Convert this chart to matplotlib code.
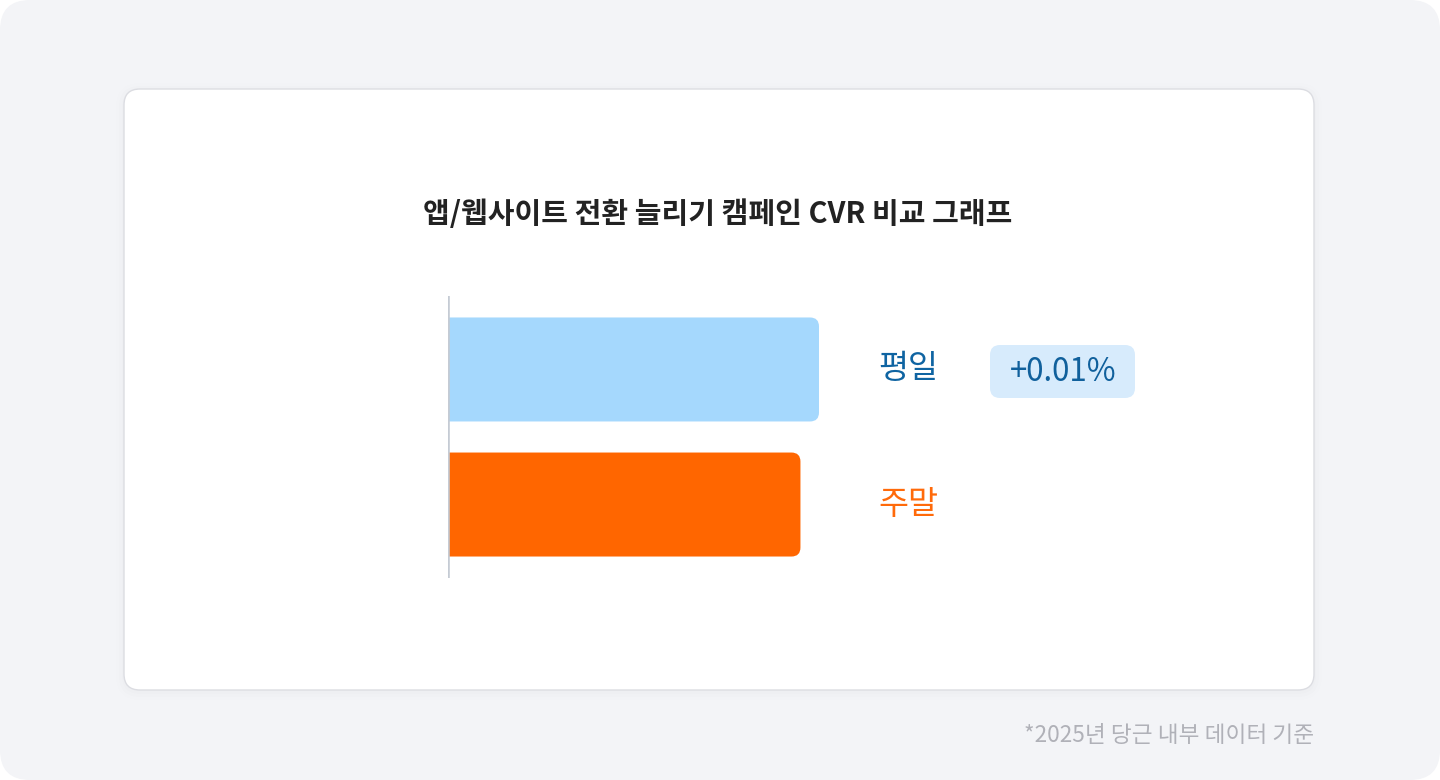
import matplotlib
matplotlib.use("Agg")
from matplotlib import pyplot as plt
from matplotlib.patches import FancyBboxPatch
from matplotlib.transforms import blended_transform_factory

plt.rcParams['font.family'] = ['Noto Sans CJK KR', 'DejaVu Sans']

# data
categories = ['평일', '주말']
cvr = [0.20, 0.19]
bar_colors = ['#a5d8fd', '#ff6600']
label_colors = ['#0f64a2', '#ff6a0a']
diff_label = '+0.01%'
title = '앱/웹사이트 전환 늘리기 캠페인 CVR 비교 그래프'
footnote = '*2025년 당근 내부 데이터 기준'

W, H = 1440, 780
fig = plt.figure(figsize=(W / 100, H / 100), dpi=100, facecolor='white')

# background + card, in pixel coords
bg = fig.add_axes([0, 0, 1, 1])
bg.set_xlim(0, W)
bg.set_ylim(H, 0)
bg.axis('off')
bg.add_patch(FancyBboxPatch((0, 0), W, H, boxstyle='round,pad=0,rounding_size=30',
                            fc='#f3f4f7', ec='none'))
for i, a in enumerate([0.004, 0.006, 0.008]):
    g = 8 - i * 3
    bg.add_patch(FancyBboxPatch((124 - g, 89 - g + 2), 1190 + 2 * g, 601 + 2 * g,
                                boxstyle='round,pad=0,rounding_size=%d' % (16 + g),
                                fc='black', alpha=a, ec='none'))
bg.add_patch(FancyBboxPatch((124, 89), 1190, 601, boxstyle='round,pad=0,rounding_size=16',
                            fc='white', ec='#dcdde2', lw=1))

bg.text(718, 214, title, ha='center', va='center', fontsize=20.9, fontweight='bold', color='#222222')
bg.text(1314, 736, footnote, ha='right', va='center', fontsize=16.3, color='#b0b1b8')

# badge
bg.add_patch(FancyBboxPatch((990, 345), 145, 53, boxstyle='round,pad=0,rounding_size=10',
                            fc='#d7ebfc', ec='none'))
bg.text(1063, 372, diff_label, ha='center', va='center', fontsize=22.5, fontweight='medium',
        color='#10609c')

# bar axes
left, right, top, bottom = 448, 1314, 296, 578
ax = fig.add_axes([left / W, 1 - bottom / H, (right - left) / W, (bottom - top) / H])
ax.patch.set_alpha(0)
px_per_x = 371 / cvr[0]
xmax = (right - left) / px_per_x
ax.set_xlim(0, xmax)
ax.set_ylim(1.544, -0.544)
ax.axis('off')

h = 0.77
rx = 9 / px_per_x
ry = 9 / 135
for i, (v, c) in enumerate(zip(cvr, bar_colors)):
    ax.add_patch(FancyBboxPatch((-rx, i - h / 2), v + rx, h,
                                boxstyle='round,pad=0,rounding_size=%f' % rx,
                                mutation_aspect=ry / rx, fc=c, ec='none'))
ax.axvline(0, color='#c5cbd4', lw=2.6, zorder=5)

tr = blended_transform_factory(ax.transAxes, ax.transData)
for i, (name, c) in enumerate(zip(categories, label_colors)):
    ax.text((878 - left) / (right - left), i, name, transform=tr, ha='left', va='center',
            fontsize=23.5, fontweight='medium', color=c)

fig.savefig('out.png', dpi=100, facecolor=fig.get_facecolor())
